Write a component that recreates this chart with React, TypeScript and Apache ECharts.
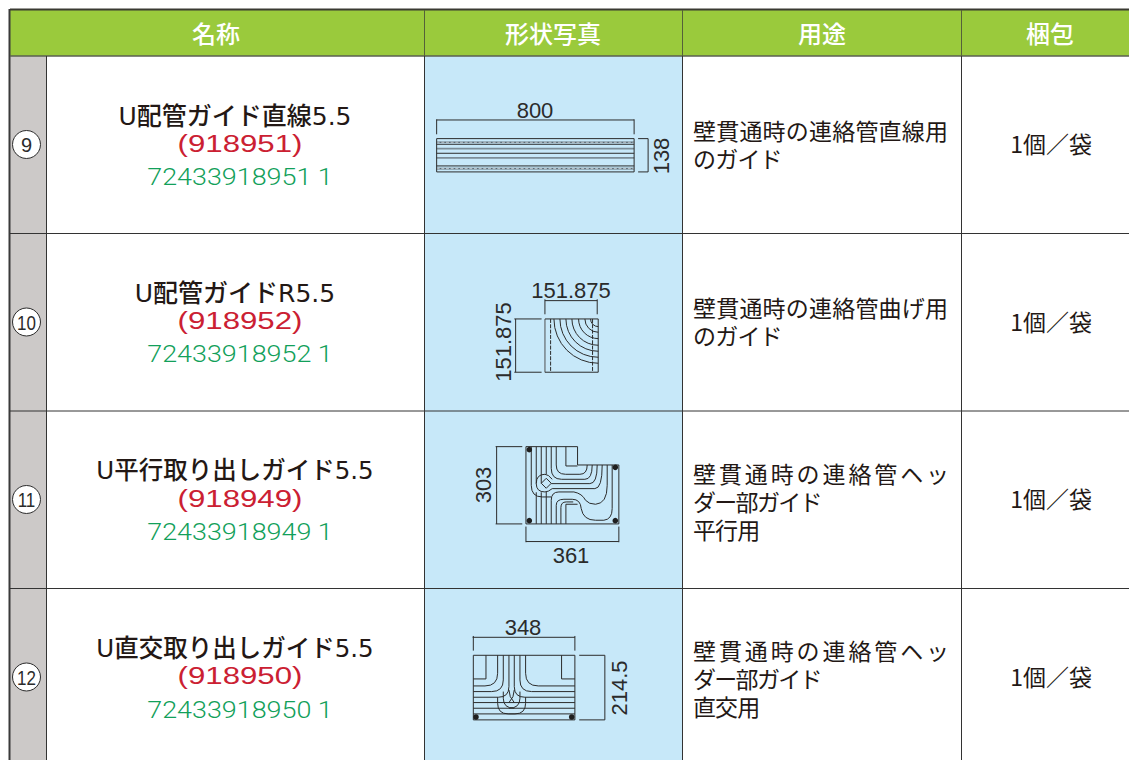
import React, { useEffect, useRef } from "react";
import * as echarts from "echarts";

const headers = ["名称", "形状写真", "用途", "梱包"];
const numbers = ["9", "10", "11", "12"];
const names = ["U配管ガイド直線5.5", "U配管ガイドR5.5", "U平行取り出しガイド5.5", "U直交取り出しガイド5.5"];
const codes = ["(918951)", "(918952)", "(918949)", "(918950)"];
const barcodes = ["72433918951 1", "72433918952 1", "72433918949 1", "72433918950 1"];
const uses = [
  ["壁貫通時の連絡管直線用", "のガイド"],
  ["壁貫通時の連絡管曲げ用", "のガイド"],
  ["壁貫通時の連絡管ヘッ", "ダー部ガイド", "平行用"],
  ["壁貫通時の連絡管ヘッ", "ダー部ガイド", "直交用"],
];
const packing = ["1個／袋", "1個／袋", "1個／袋", "1個／袋"];
const dimsFlat = [["800", 535, 110], ["151.875", 571, 290], ["361", 571, 555], ["348", 523, 627]];
const dimsUp = [["138", 661, 156], ["151.875", 503, 342], ["303", 483, 485], ["214.5", 619, 688]];

const SANS = "'Liberation Sans','Noto Sans CJK JP',sans-serif";
const WIDE = "'DejaVu Sans','Noto Sans CJK JP',sans-serif";
const THIN = "Roboto,'Liberation Sans',sans-serif";
const JP = "'Noto Sans CJK JP',sans-serif";
const INK = "#2b2b2b";

// drawings, in a 3x local space
const shapes: Record<string, string> = {
  d1dark: "M35 146H628V246H35ZM35 163H628M35 190H628M35 228H628M35 88V133M35 90H628M628 88V133M640 146H670V246H640",
  d1grey: "M35 176H628M35 204H628",
  d1band: "M35 157H628M35 236H628",
  d2dark: "M195 147H355V307H195M195 92H352M195 88V133M352 88V133M107 147V307M103 147H185M103 307H185",
  d2arcs: "M222 147A133 133 0 0 0 355 280M240 147A115 115 0 0 0 355 262M258 147A97 97 0 0 0 355 244M276 147A79 79 0 0 0 355 226M296 147A59 59 0 0 0 355 206M315 147A40 40 0 0 0 355 187M332 147A23 23 0 0 0 355 170",
  d2dash: "M212 147V307M338 147V307",
  d2grey: "M195 147V307",
  d3dark: "M183 35H338V90H462V267H183ZM303 35V93H338M303 267V208H338M95 35V267M92 35H172M92 267H172M183 275V322M462 275V322M183 320H462",
  d3lines:
    "M274 35V90Q274 118 302 118H345Q367 118 367 90M259 35V100Q259 133 290 133H360Q382 133 382 90" +
    "M244 35V118M229 35V145M214 35V146Q214 118 240 118Q250 118 262 133" +
    "M214 146Q214 171 240 171Q250 171 262 161H390Q412 161 412 90" +
    "M229 145L244 130L259 145L244 160ZM259 146H375Q397 146 397 90" +
    "M199 35V151Q199 186 232 186H259" +
    "M214 267V172M229 267V172M244 267V171" +
    "M259 267V196Q259 171 282 171H327Q352 176 362 196Q372 208 392 208Q427 206 427 151V90" +
    "M274 267V211Q274 193 297 193H322Q347 193 349 221Q355 256 392 256H417Q442 253 442 221V90" +
    "M288 267V218Q288 201 304 201H325",
  d4dark: "M40 136H345V330H40ZM40 207H78V136M345 207H305V136M38 82H345M40 78V122M345 78V122M358 136H435V330H358M40 312H345",
  d4lines:
    "M40 228H75Q113 228 113 190V136M40 245H95Q130 245 130 210V136M40 262H115Q147 262 147 230V136" +
    "M345 228H235Q197 228 197 190V136M345 245H215Q180 245 180 210V136M345 262H195Q163 262 163 230V136" +
    "M40 278H345M40 295H345" +
    "M113 262V280Q113 312 145 312H165Q197 312 197 280V262" +
    "M130 245V265Q130 295 163 295M180 245V265Q180 295 147 295" +
    "M147 240Q147 262 163 278M163 240Q163 262 147 278",
};
Object.keys(shapes).forEach((k) => {
  echarts.graphic.registerShape(k, echarts.graphic.extendPath(shapes[k] as any, {}));
});

const colX = [10, 46, 424, 682, 961, 1129];
const rowY = [56, 233.5, 411, 588.5, 760];
const rowMid = [0, 1, 2, 3].map((i) => rowY[i] + 88.5);
const spacing: Record<string, string> = {
  "壁貫通時の連絡管ヘッ": "2.9px",
  "ダー部ガイド": "-1.7px",
  "平行用": "-0.9px",
  "直交用": "-0.9px",
  "壁貫通時の連絡管直線用": "0.2px",
  "壁貫通時の連絡管曲げ用": "0.2px",
  "のガイド": "-0.8px",
};

function txt(text: string, x: number, y: number, font: string, fill: string, align = "center", scaleX = 1, rotation = 0, lineHeight?: number) {
  return {
    type: "text", x, y, scaleX, rotation, silent: true,
    style: { text, font, fill, align, verticalAlign: "middle", textAlign: align, textVerticalAlign: "middle", ...(lineHeight ? { lineHeight } : {}) },
  };
}
function rect(x: number, y: number, w: number, h: number, fill: string) {
  return { type: "rect", shape: { x, y, width: w, height: h }, style: { fill }, silent: true };
}
function hv(x1: number, y1: number, x2: number, y2: number, stroke: string, lineWidth = 1) {
  return { type: "line", shape: { x1, y1, x2, y2 }, style: { stroke, lineWidth }, silent: true };
}
function draw(name: string, x: number, y: number, style: any) {
  return { type: name, x, y, scaleX: 1 / 3, scaleY: 1 / 3, silent: true, style: { fill: "none", stroke: INK, lineWidth: 3, ...style } };
}
function dot(cx: number, cy: number) {
  return { type: "circle", shape: { cx, cy, r: 2.8 }, style: { fill: "#1f1f1f" }, silent: true };
}

function build() {
  const e: any[] = [];
  e.push(rect(0, 0, 1129, 760, "#ffffff"));
  e.push(rect(10, 10, 1119, 46, "#9aca3c"));
  e.push(rect(10, 56, 36, 704, "#ccc9c8"));
  e.push(rect(424, 56, 258, 704, "#c7e8f9"));
  // table rules
  e.push(hv(10, 9.5, 1129, 9.5, "#3a3a32", 2));
  e.push(hv(9.5, 9, 9.5, 760, "#3a3a3a", 2));
  e.push(hv(10, 56, 1129, 56, "#5a5f50", 1.5));
  rowY.slice(1, 4).forEach((y) => e.push(hv(10, y, 1129, y, "#333333", 1)));
  colX.slice(1, 5).forEach((x) => e.push(hv(x + 0.5, 56, x + 0.5, 760, "#333333", 1)));
  colX.slice(2, 5).forEach((x) => e.push(hv(x + 0.5, 10, x + 0.5, 56, "#55603a", 1)));
  // header
  const headMid = [216, 553, 822, 1050];
  headers.forEach((h, i) => e.push(txt(h, headMid[i], 32, `500 24px ${JP}`, "#ffffff")));
  // rows
  numbers.forEach((n, i) => {
    const y = rowMid[i];
    e.push({ type: "circle", shape: { cx: 26.5, cy: y, r: 14 }, style: { fill: "#fff", stroke: INK, lineWidth: 1 }, silent: true });
    e.push(txt(n, 26.5, y + 0.5, `20px ${SANS}`, INK, "center", i === 0 ? 1 : 0.85));
  });
  const nameY = [116, 293, 470, 648];
  const codeY = [144, 321, 499, 676];
  const barY = [177, 354, 532, 710];
  const nameSize = [25, 25, 24.5, 24.5];
  names.forEach((n, i) => e.push(txt(n, 235, nameY[i], `500 ${nameSize[i]}px ${WIDE}`, "#231815")));
  codes.forEach((n, i) => e.push(txt(n, 240, codeY[i], `24px ${SANS}`, "#cb2032", "center", 1.3)));
  barcodes.forEach((n, i) => e.push(txt(n, 240, barY[i], `300 23px ${THIN}`, "#12a05a", "center", 1.17)));
  const useMid = [144, 321, 500.5, 677.5];
  uses.forEach((lines, i) => e.push(txt(lines.join("\n"), 693, useMid[i], `23px ${JP}`, "#231815", "left", 1, 0, 28)));
  packing.forEach((p, i) => e.push(txt(p, 1051, rowMid[i] - 1.5, `23px ${JP}`, "#231815")));
  // drawings
  e.push(draw("d1grey", 425, 90, { stroke: "#7d8d98", lineWidth: 5 }));
  e.push(draw("d1band", 425, 90, { stroke: "#5c6c78", lineWidth: 5 }));
  e.push(draw("d1band", 425, 90, { stroke: "#eef5f8", lineWidth: 2, lineDash: [9, 5] }));
  e.push(draw("d1dark", 425, 90, {}));
  e.push(draw("d2grey", 480, 270, { stroke: "#7f8c94", lineWidth: 5 }));
  e.push(draw("d2dark", 480, 270, {}));
  e.push(draw("d2arcs", 480, 270, {}));
  e.push(draw("d2dash", 480, 270, { lineDash: [12, 4] }));
  e.push(draw("d3lines", 465, 435, {}));
  e.push(draw("d3dark", 465, 435, {}));
  e.push(draw("d4lines", 460, 610, {}));
  e.push(draw("d4dark", 460, 610, {}));
  [[529.3, 449.7], [529.3, 520.7], [615.3, 467.3], [615.3, 520.7], [476, 717], [571.7, 717]].forEach(([a, b]) => e.push(dot(a, b)));
  dimsFlat.forEach(([t, x, y]) => e.push(txt(t as string, x as number, y as number, `22px ${SANS}`, INK)));
  dimsUp.forEach(([t, x, y]) => e.push(txt(t as string, x as number, y as number, `22px ${SANS}`, INK, "center", 1, Math.PI / 2)));
  return e;
}

export default function App() {
  const ref = useRef<HTMLDivElement>(null);
  useEffect(() => {
    document.body.style.margin = "0";
    const chart = echarts.init(ref.current!, undefined, { renderer: "svg", width: 1129, height: 760 });
    chart.setOption({ animation: false, graphic: { elements: build() } });
    ref.current!.querySelectorAll("text").forEach((t) => {
      const s = spacing[t.textContent || ""];
      if (s) (t as any).style.letterSpacing = s;
    });
    return () => chart.dispose();
  }, []);
  return <div ref={ref} style={{ width: 1129, height: 760 }} />;
}
